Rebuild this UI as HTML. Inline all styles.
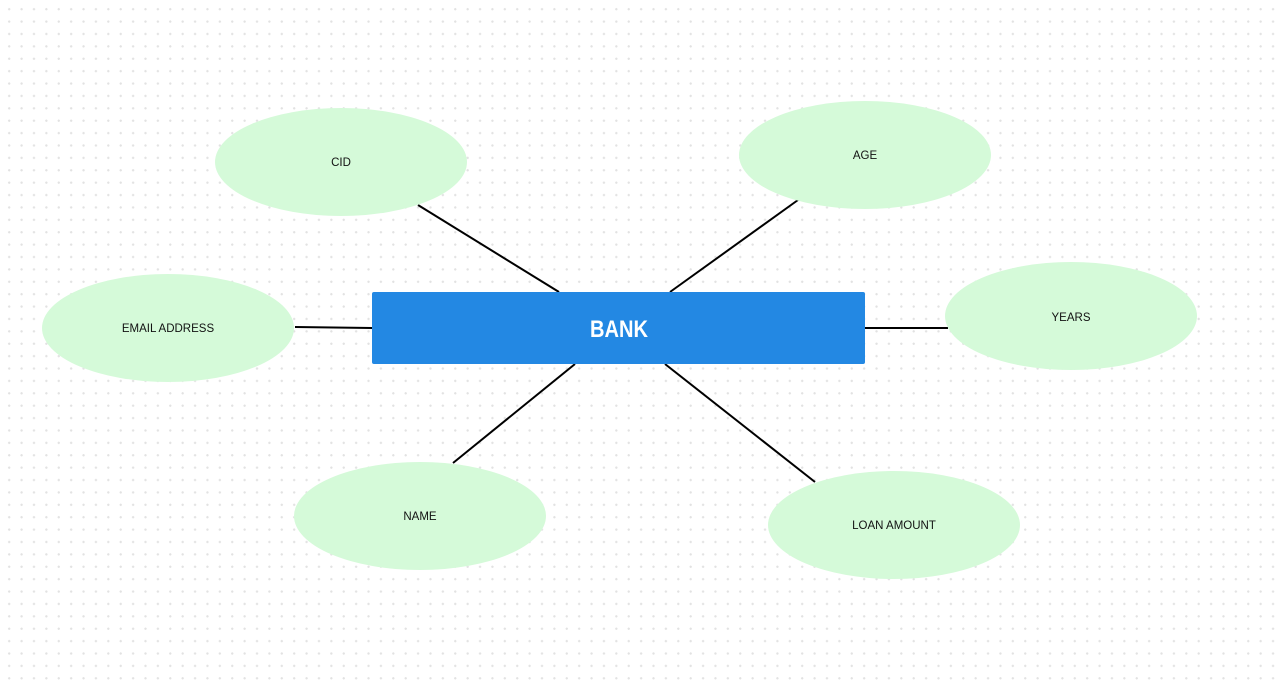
<!DOCTYPE html>
<html><head><style>
html,body{margin:0;padding:0;}
body{width:1280px;height:687px;overflow:hidden;background:#fff;
background-image:radial-gradient(circle,#e2e2e2 1px,transparent 1.3px);background-size:12.4px 12.4px;background-position:3px 3px;}
</style></head><body>
<svg width="1280" height="687" style="position:absolute;left:0;top:0" font-family="Liberation Sans, sans-serif">
<g stroke="#000" stroke-width="2">
<line x1="418" y1="205" x2="559" y2="292"/>
<line x1="798" y1="200" x2="670" y2="292"/>
<line x1="295" y1="327" x2="372" y2="328"/>
<line x1="865" y1="328" x2="948" y2="328"/>
<line x1="575" y1="364" x2="453" y2="463"/>
<line x1="665" y1="364" x2="815" y2="482"/>
</g>
<g fill="#d5fad9">
<ellipse cx="341" cy="162" rx="126" ry="54"/>
<ellipse cx="865" cy="155" rx="126" ry="54"/>
<ellipse cx="168" cy="328" rx="126" ry="54"/>
<ellipse cx="1071" cy="316" rx="126" ry="54"/>
<ellipse cx="420" cy="516" rx="126" ry="54"/>
<ellipse cx="894" cy="525" rx="126" ry="54"/>
</g>
<rect x="372" y="292" width="493" height="72" rx="2" fill="#2388e3"/>
<text x="590" y="337" fill="#fff" font-size="24" font-weight="bold" textLength="58" lengthAdjust="spacingAndGlyphs">BANK</text>
<g font-size="11.5" fill="#111" text-anchor="middle">
<text x="341" y="166">CID</text>
<text x="865" y="159">AGE</text>
<text x="168" y="332">EMAIL ADDRESS</text>
<text x="1071" y="321">YEARS</text>
<text x="420" y="520">NAME</text>
<text x="894" y="529">LOAN AMOUNT</text>
</g>
</svg>
</body></html>
